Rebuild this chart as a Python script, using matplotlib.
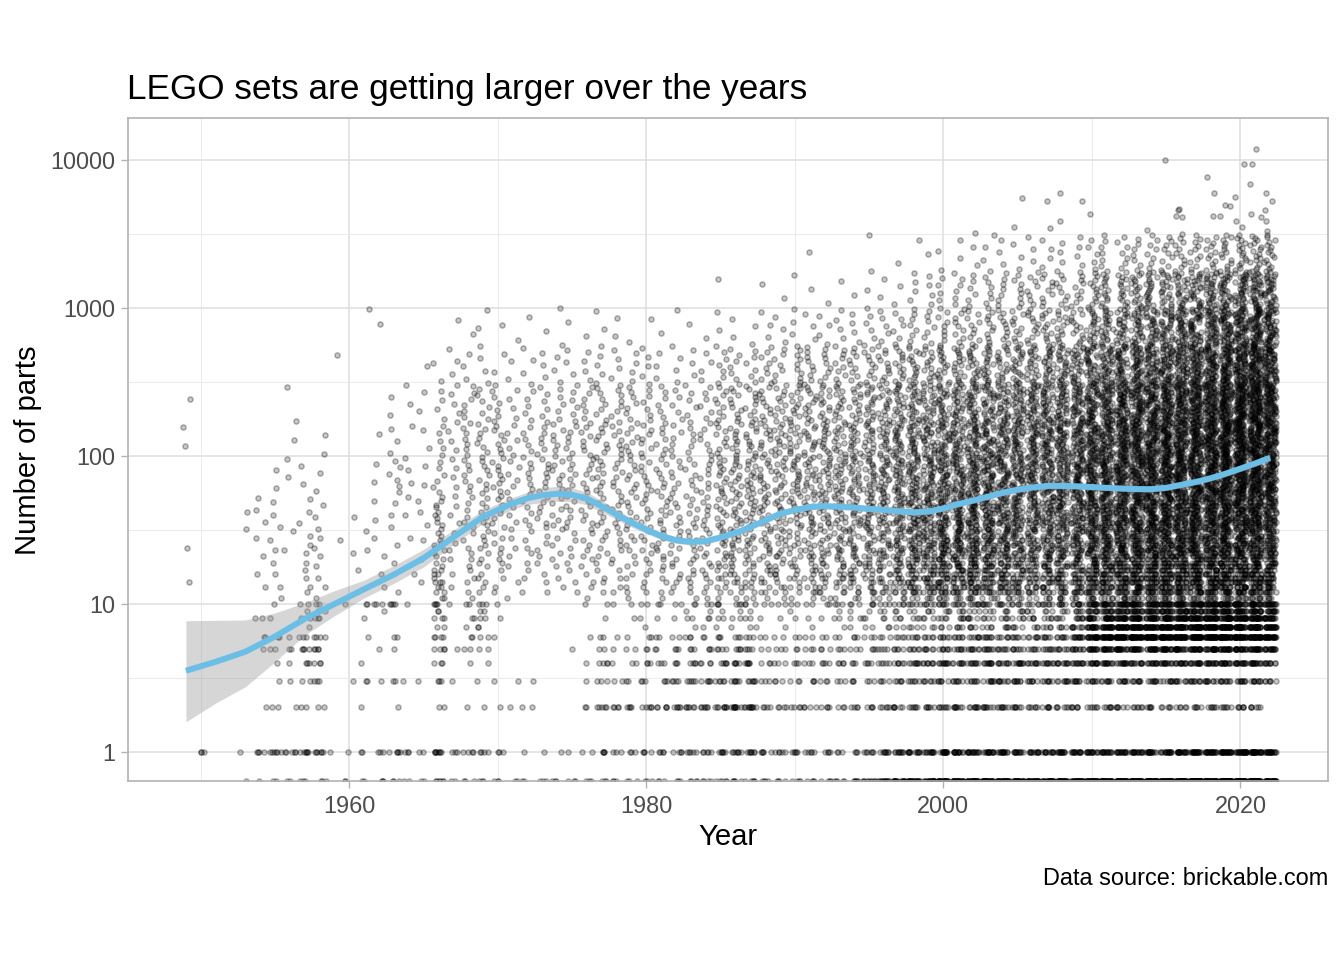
import math
import matplotlib
matplotlib.use("Agg")
import matplotlib.pyplot as plt
from matplotlib.ticker import FixedLocator, NullFormatter

# ---------------- data ----------------
years = list(range(1949, 2023))

# sets with an exact (small) number of parts per year: 0 (drawn on the lower edge), 1..10
exact_values = [0, 1, 2, 3, 4, 5, 6, 7, 8, 9, 10]
exact_counts = [
    [0, 0, 0, 0, 0, 0, 0, 0, 0, 0, 0],   # 1949
    [0, 3, 0, 0, 0, 0, 0, 0, 0, 0, 0],   # 1950
    [0, 0, 0, 0, 0, 0, 0, 0, 0, 0, 0],
    [0, 0, 0, 0, 0, 0, 0, 0, 0, 0, 0],
    [1, 1, 0, 0, 0, 0, 0, 0, 0, 0, 0],
    [1, 4, 1, 0, 0, 1, 2, 0, 2, 0, 0],
    [2, 6, 2, 1, 1, 2, 2, 0, 1, 0, 1],
    [2, 5, 1, 1, 1, 2, 1, 0, 0, 0, 0],
    [3, 6, 2, 2, 3, 4, 3, 1, 2, 1, 2],
    [3, 6, 2, 3, 3, 4, 4, 0, 3, 2, 2],
    [0, 1, 0, 0, 0, 0, 0, 0, 0, 0, 0],   # 1959
    [2, 1, 0, 1, 0, 0, 0, 0, 0, 0, 1],   # 1960
    [2, 2, 1, 2, 1, 0, 1, 0, 1, 0, 2],
    [3, 3, 0, 1, 0, 1, 0, 0, 0, 1, 3],
    [3, 5, 1, 2, 0, 1, 2, 0, 0, 0, 4],
    [2, 3, 0, 1, 0, 0, 0, 0, 0, 0, 1],
    [2, 2, 0, 1, 0, 0, 0, 0, 0, 0, 0],
    [6, 8, 2, 3, 3, 4, 4, 2, 3, 2, 4],
    [2, 3, 0, 1, 0, 1, 0, 0, 0, 0, 1],
    [3, 4, 1, 0, 1, 2, 2, 1, 2, 0, 2],
    [3, 4, 1, 1, 1, 2, 2, 2, 2, 2, 3],   # 1969
    [3, 3, 1, 1, 0, 0, 1, 0, 1, 0, 1],   # 1970
    [2, 0, 1, 1, 0, 0, 0, 0, 0, 0, 0],
    [2, 1, 2, 1, 0, 0, 0, 0, 0, 0, 0],
    [3, 1, 0, 0, 0, 0, 0, 0, 0, 0, 0],
    [3, 1, 0, 0, 0, 0, 0, 0, 0, 0, 0],
    [3, 1, 0, 0, 0, 1, 0, 0, 0, 0, 0],
    [3, 2, 2, 1, 1, 0, 1, 0, 0, 0, 1],
    [3, 4, 5, 3, 4, 2, 2, 0, 1, 0, 1],
    [3, 3, 4, 2, 1, 1, 1, 0, 0, 0, 1],
    [3, 3, 4, 2, 2, 2, 1, 0, 1, 0, 1],   # 1979
    [3, 4, 5, 3, 3, 2, 2, 1, 1, 0, 2],   # 1980
    [3, 4, 5, 3, 3, 2, 2, 0, 1, 0, 2],
    [3, 4, 5, 4, 3, 3, 2, 0, 1, 0, 2],
    [4, 5, 6, 5, 4, 3, 3, 1, 2, 1, 2],
    [4, 5, 6, 5, 4, 3, 2, 1, 2, 1, 2],
    [5, 6, 8, 5, 5, 4, 3, 1, 2, 1, 3],
    [5, 7, 9, 6, 5, 4, 3, 1, 2, 1, 3],
    [5, 7, 10, 6, 6, 4, 3, 2, 2, 1, 3],
    [4, 5, 4, 3, 3, 2, 2, 0, 1, 0, 2],
    [4, 5, 4, 3, 3, 3, 2, 1, 1, 0, 2],   # 1989
    [4, 5, 4, 3, 3, 2, 2, 0, 1, 1, 2],   # 1990
    [4, 5, 4, 3, 3, 3, 2, 1, 1, 0, 2],
    [4, 4, 4, 3, 4, 3, 2, 0, 1, 0, 2],
    [5, 3, 3, 3, 4, 3, 2, 1, 2, 1, 3],
    [6, 3, 4, 3, 3, 3, 3, 1, 2, 1, 3],
    [10, 6, 4, 3, 4, 3, 3, 2, 2, 1, 3],
    [15, 8, 5, 4, 5, 4, 3, 2, 2, 2, 3],
    [20, 9, 6, 5, 6, 5, 4, 2, 3, 2, 4],
    [25, 12, 6, 6, 8, 6, 5, 3, 3, 2, 5],
    [25, 12, 6, 6, 8, 6, 5, 3, 3, 3, 5],  # 1999
    [30, 14, 7, 6, 10, 7, 6, 3, 4, 3, 6],  # 2000
    [30, 14, 8, 7, 8, 7, 6, 4, 4, 3, 6],
    [35, 16, 8, 7, 9, 8, 7, 4, 5, 3, 6],
    [35, 15, 8, 8, 10, 8, 7, 4, 4, 3, 6],
    [35, 14, 8, 8, 9, 7, 6, 4, 4, 3, 6],
    [30, 12, 7, 8, 10, 7, 6, 4, 4, 3, 5],
    [30, 12, 6, 7, 9, 6, 6, 3, 4, 3, 5],
    [30, 12, 6, 7, 9, 7, 6, 4, 4, 3, 6],
    [30, 13, 6, 8, 10, 7, 7, 4, 4, 3, 6],
    [35, 14, 6, 8, 11, 10, 12, 8, 7, 5, 8],  # 2009
    [40, 15, 6, 8, 12, 14, 22, 18, 14, 10, 14],  # 2010
    [40, 15, 6, 8, 12, 16, 28, 22, 18, 12, 16],
    [45, 16, 6, 8, 12, 18, 32, 26, 20, 14, 18],
    [45, 16, 6, 8, 12, 18, 34, 28, 22, 15, 18],
    [50, 16, 5, 8, 12, 18, 34, 28, 22, 15, 19],
    [50, 16, 5, 8, 13, 19, 35, 30, 23, 16, 20],
    [50, 18, 5, 8, 13, 19, 35, 30, 24, 16, 20],
    [55, 20, 5, 9, 14, 20, 36, 32, 25, 17, 22],
    [55, 22, 6, 9, 14, 20, 36, 32, 26, 18, 22],
    [55, 24, 6, 9, 15, 20, 36, 32, 26, 18, 22],  # 2019
    [55, 25, 6, 9, 15, 20, 36, 32, 26, 18, 22],  # 2020
    [55, 26, 6, 9, 15, 20, 36, 32, 26, 18, 22],
    [40, 20, 0, 6, 10, 16, 28, 24, 20, 14, 18],  # 2022
]

# larger sets: counts per year inside log10(parts) bands
bin_edges_log = [1.04, 1.25, 1.5, 1.75, 2.0, 2.25, 2.5, 2.75, 3.0, 3.25, 3.5]
bin_counts = [
    [1, 1, 0, 0, 2, 1, 0, 0, 0, 0],   # 1949
    [0, 0, 0, 0, 0, 0, 0, 0, 0, 0],   # 1950
    [0, 0, 0, 0, 0, 0, 0, 0, 0, 0],
    [0, 0, 0, 0, 0, 0, 0, 0, 0, 0],
    [0, 0, 2, 0, 0, 0, 0, 0, 0, 0],
    [2, 2, 3, 0, 0, 0, 0, 0, 0, 0],
    [3, 3, 3, 2, 0, 0, 0, 0, 0, 0],
    [0, 2, 0, 2, 2, 1, 0, 0, 0, 0],
    [4, 4, 3, 2, 0, 0, 0, 0, 0, 0],
    [3, 4, 3, 2, 2, 0, 0, 0, 0, 0],
    [0, 1, 0, 0, 0, 0, 1, 0, 0, 0],   # 1959
    [0, 1, 1, 0, 0, 0, 0, 0, 0, 0],   # 1960
    [1, 2, 0, 0, 0, 0, 0, 1, 0, 0],
    [2, 2, 2, 2, 1, 0, 0, 1, 0, 0],
    [1, 2, 3, 6, 3, 2, 0, 0, 0, 0],
    [1, 1, 2, 3, 1, 2, 0, 0, 0, 0],
    [1, 2, 3, 2, 2, 2, 1, 0, 0, 0],
    [14, 12, 10, 6, 5, 4, 2, 0, 0, 0],
    [2, 4, 4, 4, 4, 4, 3, 1, 0, 0],
    [5, 6, 6, 7, 7, 6, 3, 1, 0, 0],
    [6, 8, 8, 8, 8, 6, 3, 2, 0, 0],   # 1969
    [4, 7, 8, 9, 8, 6, 2, 1, 0, 0],   # 1970
    [2, 4, 5, 6, 5, 4, 2, 1, 0, 0],
    [3, 5, 6, 7, 6, 5, 3, 1, 0, 0],
    [3, 5, 7, 8, 7, 5, 3, 1, 0, 0],
    [3, 5, 7, 8, 7, 5, 3, 1, 0, 0],
    [3, 5, 7, 7, 7, 5, 3, 1, 0, 0],
    [4, 7, 8, 8, 8, 6, 4, 1, 0, 0],
    [4, 7, 8, 9, 9, 7, 4, 2, 0, 0],
    [4, 6, 8, 8, 8, 7, 4, 2, 0, 0],
    [5, 7, 8, 8, 8, 7, 4, 1, 0, 0],   # 1979
    [5, 8, 8, 8, 8, 6, 4, 1, 0, 0],   # 1980
    [5, 8, 8, 8, 7, 6, 3, 1, 0, 0],
    [6, 8, 8, 7, 6, 5, 3, 1, 0, 0],
    [7, 8, 8, 7, 6, 5, 3, 1, 0, 0],
    [7, 8, 8, 8, 7, 6, 4, 1, 0, 0],
    [10, 12, 12, 12, 10, 9, 6, 2, 1, 0],
    [10, 13, 13, 13, 11, 10, 6, 2, 0, 0],
    [11, 14, 14, 14, 12, 10, 6, 2, 0, 0],
    [10, 13, 14, 13, 12, 10, 7, 3, 1, 0],
    [10, 13, 14, 14, 13, 11, 7, 3, 1, 0],   # 1989
    [10, 13, 15, 15, 14, 12, 8, 3, 1, 0],   # 1990
    [11, 14, 15, 16, 14, 12, 8, 3, 1, 1],
    [12, 15, 17, 17, 15, 13, 8, 4, 1, 0],
    [13, 16, 18, 18, 16, 13, 9, 4, 1, 0],
    [14, 17, 19, 19, 17, 14, 9, 4, 1, 0],
    [15, 19, 20, 20, 18, 15, 10, 5, 2, 1],
    [17, 22, 23, 22, 20, 16, 11, 5, 2, 0],
    [20, 26, 27, 26, 23, 19, 12, 6, 2, 1],
    [28, 36, 35, 32, 28, 22, 14, 7, 4, 1],
    [30, 38, 36, 32, 28, 22, 14, 7, 4, 1],   # 1999
    [35, 45, 42, 36, 30, 24, 15, 8, 5, 2],   # 2000
    [35, 45, 42, 38, 32, 26, 17, 9, 6, 2],
    [38, 48, 46, 42, 36, 28, 18, 10, 6, 2],
    [36, 46, 45, 42, 36, 28, 18, 10, 7, 3],
    [34, 42, 42, 40, 35, 28, 18, 10, 7, 3],
    [30, 38, 40, 40, 36, 30, 20, 11, 8, 3],
    [28, 36, 38, 40, 37, 31, 21, 12, 8, 3],
    [30, 38, 40, 42, 40, 33, 23, 13, 9, 4],
    [32, 40, 42, 44, 42, 35, 24, 13, 9, 4],
    [36, 44, 46, 48, 44, 38, 26, 14, 10, 4],   # 2009
    [46, 54, 56, 58, 54, 47, 34, 20, 12, 5],   # 2010
    [50, 58, 60, 62, 58, 51, 37, 23, 14, 6],
    [56, 65, 67, 70, 65, 56, 40, 26, 16, 7],
    [58, 67, 70, 72, 67, 58, 43, 28, 18, 7],
    [60, 70, 72, 74, 70, 62, 45, 31, 20, 8],
    [62, 72, 74, 76, 72, 64, 48, 34, 22, 9],
    [62, 72, 75, 78, 74, 67, 51, 37, 24, 10],
    [64, 74, 78, 83, 78, 72, 55, 41, 27, 11],
    [64, 74, 80, 85, 83, 76, 59, 45, 30, 12],
    [64, 74, 80, 87, 87, 80, 63, 48, 32, 13],   # 2019
    [64, 76, 82, 92, 92, 87, 68, 53, 35, 15],   # 2020
    [64, 76, 85, 96, 98, 94, 75, 58, 38, 17],
    [50, 62, 70, 78, 84, 80, 65, 52, 34, 15],   # 2022
]

# the very largest sets, read one by one
big_set_years = [2002, 2005, 2005, 2007, 2007, 2008, 2008, 2009, 2010, 2014,
                 2015, 2016, 2016, 2016, 2016, 2018, 2018, 2018, 2019, 2019,
                 2019, 2020, 2020, 2020, 2020, 2021, 2021, 2021, 2021, 2021,
                 2022, 2022, 2022, 2022, 2022]
big_set_parts = [3200, 5560, 3550, 5300, 3500, 6000, 3870, 5300, 4350, 3380,
                 10000, 4620, 4200, 4700, 4100, 7700, 6000, 4200, 5000, 4200,
                 4900, 3900, 9400, 5600, 3550, 11900, 9400, 6900, 4300, 4100,
                 6000, 5250, 4600, 3900, 3300]

# loess smooth (fit and confidence band), in parts
smooth_years = [1949, 1951, 1953, 1955, 1957, 1959, 1961, 1963, 1965, 1967, 1969,
                1971, 1972, 1973, 1974, 1975, 1976, 1977, 1978, 1979, 1980,
                1981, 1982, 1983, 1984, 1985, 1986, 1987, 1988, 1989, 1990,
                1991, 1992, 1993, 1994, 1995, 1996, 1997, 1998, 1999, 2000,
                2001, 2002, 2003, 2004, 2005, 2006, 2007, 2008, 2009, 2010,
                2011, 2012, 2013, 2014, 2015, 2016, 2017, 2018, 2019, 2020,
                2021, 2022]
smooth_fit = [3.54, 4.07, 4.76, 6.03, 7.94, 10.0, 12.6, 15.8, 20.4, 28.2, 38.9,
              47.9, 51.9, 54.3, 55.6, 54.7, 51.6, 45.7, 40.2, 35.5, 31.8,
              28.8, 27.0, 26.3, 26.6, 28.2, 30.2, 33.1, 36.7, 40.7, 43.2,
              45.2, 45.9, 45.4, 44.9, 44.0, 43.3, 42.4, 41.6, 42.2, 44.2,
              47.3, 50.0, 53.1, 56.5, 59.2, 61.4, 62.8, 62.8, 62.4, 61.7,
              61.0, 60.3, 59.8, 59.7, 61.0, 63.8, 66.8, 70.8, 75.9, 82.2,
              89.1, 97.3]
smooth_upper = [7.71, 7.76, 7.80, 8.71, 10.2, 12.3, 14.5, 18.2, 23.4, 31.6, 43.2,
                52.5, 57.1, 61.0, 62.4, 61.0, 56.9, 50.1, 43.7, 38.0, 33.9,
                30.5, 28.5, 27.7, 27.9, 29.5, 31.6, 34.7, 38.4, 42.6, 45.2,
                47.3, 48.1, 47.5, 47.0, 46.1, 45.3, 44.4, 43.6, 44.2, 46.3,
                49.5, 52.4, 55.6, 59.2, 62.0, 64.3, 65.8, 65.8, 65.3, 64.6,
                63.9, 63.1, 62.6, 62.5, 63.9, 66.8, 69.9, 74.1, 79.5, 86.1,
                93.5, 103.0]
smooth_lower = [1.60, 2.14, 2.76, 4.07, 6.17, 8.32, 11.0, 13.8, 17.8, 25.1, 35.1,
                43.7, 47.1, 48.4, 49.5, 49.0, 46.8, 41.7, 37.2, 33.1, 29.9,
                27.2, 25.7, 24.9, 25.4, 26.9, 28.8, 31.6, 35.1, 38.9, 41.3,
                43.2, 43.8, 43.4, 42.9, 42.0, 41.4, 40.5, 39.7, 40.3, 42.2,
                45.2, 47.8, 50.7, 54.0, 56.5, 58.6, 60.0, 60.0, 59.6, 58.9,
                58.3, 57.6, 57.1, 57.0, 58.3, 60.9, 63.8, 67.6, 72.5, 78.5,
                84.9, 92.0]

x_ticks = [1960, 1980, 2000, 2020]
y_ticks = [1, 10, 100, 1000, 10000]
y_tick_labels = ["1", "10", "100", "1000", "10000"]

# ---------------- figure ----------------
plt.rcParams['font.family'] = ['Liberation Sans', 'DejaVu Sans']

W, H = 1344, 960
fig = plt.figure(figsize=(W / 100, H / 100), dpi=100)
fig.patch.set_facecolor('white')
ax = fig.add_axes([128 / W, 1 - 781 / H, 1200 / W, 663 / H])

XMIN, XMAX = 1945.1, 2025.9
YMIN, YMAX = 0.637, 19230.0
ax.set_yscale('log')
ax.set_xlim(XMIN, XMAX)
ax.set_ylim(YMIN, YMAX)


def jitter(i):
    # deterministic scramble in [-0.4, 0.4) used as horizontal jitter
    f = math.sin(i * 12.9898 + 78.233) * 43758.5453
    return (f - math.floor(f) - 0.5) * 0.8


xs, ys = [], []
k = 0
for yi, yr in enumerate(years):
    phase = (yr * 0.6180339887) % 1.0
    vals = []
    for v, c in zip(exact_values, exact_counts[yi]):
        vals += [v] * c
    for b, c in enumerate(bin_counts[yi]):
        lo, hi = bin_edges_log[b], bin_edges_log[b + 1]
        for j in range(c):
            vals.append(round(10 ** (lo + (j + phase) / c * (hi - lo))))
    for v in vals:
        k += 1
        xs.append(yr + jitter(k))
        ys.append(v if v > 0 else YMIN)
for yr, v in zip(big_set_years, big_set_parts):
    k += 1
    xs.append(yr + jitter(k))
    ys.append(v)

ax.scatter(xs, ys, s=14, facecolors=(0, 0, 0, 0.22), edgecolors=(0, 0, 0, 0.30),
           linewidths=1.0, zorder=3, clip_on=True)

ax.fill_between(smooth_years, smooth_lower, smooth_upper, color='#999999',
                alpha=0.4, linewidth=0, zorder=4)
ax.plot(smooth_years, smooth_fit, color='#6BBFE6', linewidth=4.3,
        solid_capstyle='butt', solid_joinstyle='round', zorder=5)

ax.xaxis.set_major_locator(FixedLocator(x_ticks))
ax.xaxis.set_minor_locator(FixedLocator([1950, 1970, 1990, 2010]))
ax.yaxis.set_major_locator(FixedLocator(y_ticks))
ax.yaxis.set_minor_locator(FixedLocator([10 ** 0.5, 10 ** 1.5, 10 ** 2.5, 10 ** 3.5]))
ax.yaxis.set_minor_formatter(NullFormatter())
ax.set_yticklabels(y_tick_labels)
ax.set_xticklabels([str(t) for t in x_ticks])

ax.set_axisbelow(True)
ax.grid(which='major', color='#DEDEDE', linewidth=1.1)
ax.grid(which='minor', color='#E6E6E6', linewidth=0.55)
for sp in ax.spines.values():
    sp.set_color('#B3B3B3')
    sp.set_linewidth(1.2)
    sp.set_zorder(6)

ax.tick_params(which='major', length=5.3, width=1.0, color='#B3B3B3',
               labelsize=16.9, labelcolor='#4D4D4D')
ax.tick_params(axis='x', which='major', pad=5.0)
ax.tick_params(axis='y', which='major', pad=4.2)
ax.tick_params(which='minor', length=0)

fig.text(127 / W, 1 - 99 / H, "LEGO sets are getting larger over the years",
         ha='left', va='baseline', fontsize=25.3, color='black')
fig.text(728 / W, 1 - 845 / H, "Year", ha='center', va='baseline',
         fontsize=21.1, color='black')
fig.text(28 / W, 1 - 450 / H, "Number of parts", ha='center', va='center',
         rotation=90, fontsize=21.1, color='black')
fig.text(1328 / W, 1 - 885 / H, "Data source: brickable.com", ha='right',
         va='baseline', fontsize=16.9, color='black')

fig.savefig('out.png', dpi=100)
